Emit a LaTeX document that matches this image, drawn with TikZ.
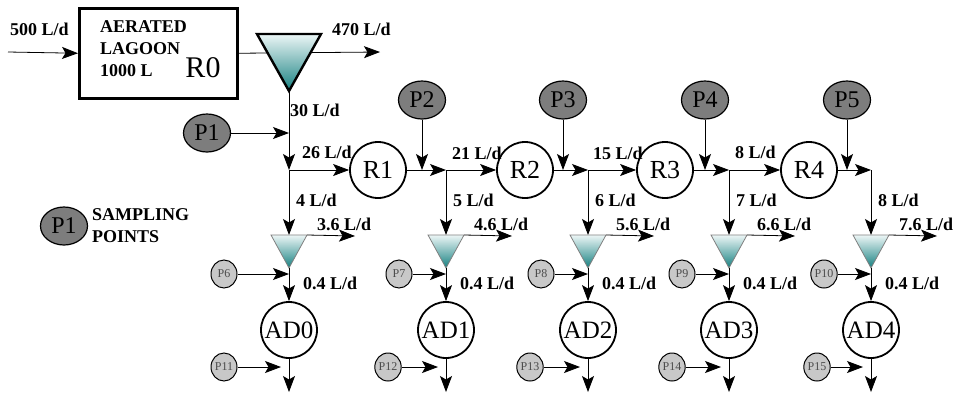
\documentclass[tikz,border=0pt]{standalone}
\usepackage{fontspec}
\setmainfont{Liberation Serif}
\usetikzlibrary{arrows.meta, shapes.geometric, positioning, calc}

\definecolor{splittop}{RGB}{236,246,246}
\definecolor{splitbot}{RGB}{22,128,128}
\definecolor{ptdark}{RGB}{125,125,125}
\definecolor{ptlight}{RGB}{200,200,200}

\tikzset{
  flow/.style={font=\fontsize{18}{22}\selectfont\bfseries, inner sep=0pt},
  flowline/.style={-{Stealth[length=16pt,width=12pt,inset=3.5pt]}, line width=0.8pt},
  tank/.style={circle, draw, line width=1.8pt, minimum size=56pt, inner sep=0pt,
    font=\fontsize{26}{26}\selectfont},
  bigpt/.style={ellipse, draw, line width=1.2pt, fill=ptdark, minimum width=47pt,
    minimum height=38pt, inner sep=0pt, font=\fontsize{24}{24}\selectfont},
  smallpt/.style={ellipse, draw, line width=1pt, fill=ptlight, minimum width=26pt,
    minimum height=28pt, inner sep=0pt, text=black!70, font=\fontsize{12}{12}\selectfont},
  bigsplit/.style={draw, line width=2.4pt, top color=splittop, bottom color=splitbot},
  smallsplit/.style={draw=gray, line width=0.8pt, top color=splittop, bottom color=splitbot}
}

\begin{document}
\begin{tikzpicture}[x=1pt, y=-1pt]
\useasboundingbox (0,0) rectangle (957,394);

% lagoon
\node[draw, line width=2.5pt, minimum width=158pt, minimum height=90pt, anchor=north west] (lagoon) at (78,7) {};
\node[flow, anchor=north west, align=left] (lagtxt) at (100,20) {AERATED\\LAGOON\\1000 L};
\node[font=\fontsize{30}{30}\selectfont, inner sep=0pt] (R0) at (203,68) {R0};
\node[flow, anchor=west] (qin) at (10,29) {500 L/d};
\coordinate (in) at (8,52);
\draw[flowline] (in) -- (lagoon.west);

% main splitter
\coordinate (out0) at (380,52);
\draw[flowline] (lagoon.east) -- (out0);
\coordinate (tl) at (257,34);
\coordinate (tr) at (321,34);
\coordinate (apex) at (289,91);
\path[bigsplit] (tl) -- (tr) -- (apex) -- cycle;
\node[flow, anchor=west] (qout) at (332,29) {470 L/d};
\node[flow, anchor=west] (q30) at (290,110) {30 L/d};

% main line
\coordinate (j0) at (289,170);
\coordinate (j1) at (446,170);
\coordinate (j2) at (588,170);
\coordinate (j3) at (729,170);
\coordinate (j4) at (871,170);
\node[tank] (R1) at (378,170) {R1};
\node[tank] (R2) at (525,170) {R2};
\node[tank] (R3) at (665,170) {R3};
\node[tank] (R4) at (809,170) {R4};

\draw[flowline] (apex) -- (j0);
\node[bigpt] (P1) at (207,133) {P1};
\draw[flowline] (P1.east) -- (P1.east -| j0);
\node[flow, anchor=west] (q26) at (302,152) {26 L/d};

\draw[flowline] (j0) -- (R1);
\draw[flowline] (R1) -- (j1);
\draw[flowline] (j1) -- (R2);
\draw[flowline] (R2) -- (j2);
\draw[flowline] (j2) -- (R3);
\draw[flowline] (R3) -- (j3);
\draw[flowline] (j3) -- (R4);
\draw[flowline] (R4) -- (j4);
\node[flow, anchor=west] (q21) at (452,153) {21 L/d};
\node[flow, anchor=west] (q15) at (593,153) {15 L/d};
\node[flow, anchor=west] (q8) at (735,152) {8 L/d};

% sampling points on main line
\foreach \p/\xp/\jn in {2/422/1, 3/563/2, 4/705/3, 5/847/4} {
  \node[bigpt] (P\p) at (\xp,100) {P\p};
  \draw[flowline] (P\p) -- (P\p |- j\jn);
}

% digesters
\foreach \k/\xc/\qa/\qb/\pa/\offa/\pb/\offb in
  {0/289/4/3.6/6/65/11/65, 1/446/5/4.6/7/47/12/58, 2/588/6/5.6/8/47/13/58,
   3/729/7/6.6/9/47/14/57, 4/871/8/7.6/10/47/15/54} {
  \coordinate (sl\k) at (\xc-18,235);
  \coordinate (sr\k) at (\xc+18,235);
  \coordinate (sa\k) at (\xc,268);
  \draw[flowline] (j\k) -- (j\k |- sl\k);
  \coordinate (so\k) at (\xc+66,236);
  \draw[flowline] (sr\k) -- (so\k);
  \path[smallsplit] (sl\k) -- (sr\k) -- (sa\k) -- cycle;
  \node[flow, anchor=west] (la\k) at (\xc+7,200) {\qa\ L/d};
  \node[flow, anchor=west] (lb\k) at (\xc+28,224) {\qb\ L/d};
  \node[smallpt] (P\pa) at (\xc-\offa,274) {P\pa};
  \draw[flowline] (P\pa.east) -- (P\pa.east -| sa\k);
  \node[flow, anchor=west] (lc\k) at (\xc+14,283) {0.4 L/d};
  \node[tank, font=\fontsize{25}{25}\selectfont] (AD\k) at (\xc,330) {AD\k};
  \draw[flowline] (sa\k) -- (AD\k);
  \node[smallpt] (P\pb) at (\xc-\offb,367) {P\pb};
  \coordinate (e\k) at (\xc-8,367);
  \draw[flowline] (P\pb) -- (e\k);
  \coordinate (b\k) at (\xc,392);
  \draw[flowline] (AD\k) -- (b\k);
}

% key
\node[bigpt] (key) at (64,226) {P1};
\node[flow, anchor=west, align=left] (keytxt) at (92,226) {SAMPLING\\POINTS};
\end{tikzpicture}
\end{document}
